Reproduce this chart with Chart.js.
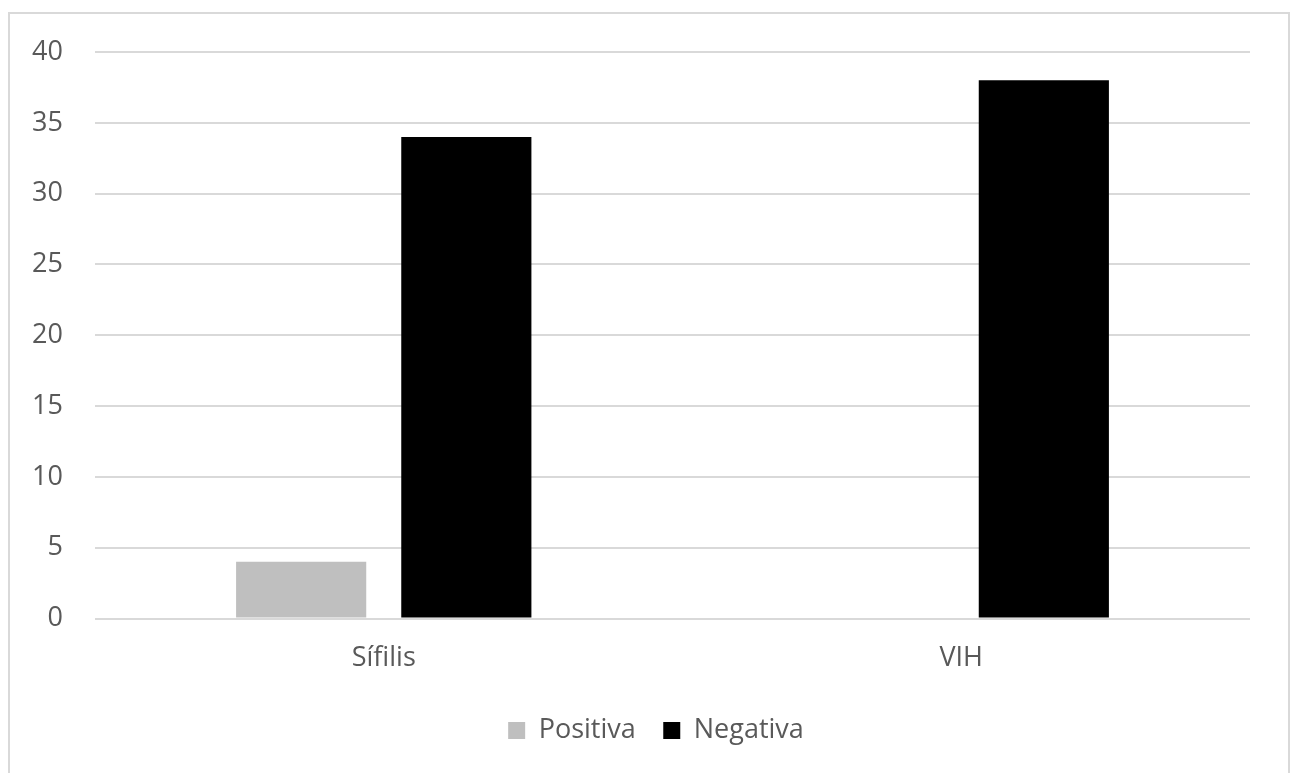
<!DOCTYPE html>
<html>
<head>
<meta charset="utf-8">
<script src="https://cdn.jsdelivr.net/npm/chart.js@4"></script>
<style>
  html, body { margin: 0; padding: 0; background: #ffffff; overflow: hidden; }
  #wrap { position: absolute; left: 0; top: 0; width: 1292px; height: 773px; }
  #frame {
    position: absolute; left: 8px; top: 12px; width: 1282px; height: 800px;
    box-sizing: border-box; border: 2px solid #d9d9d9; pointer-events: none;
  }
</style>
</head>
<body>
<div id="wrap"><canvas id="chart" width="1292" height="773"></canvas></div>
<div id="frame"></div>
<script>
// Test results by infection
const categories = ['Sífilis', 'VIH'];
const positiva = [4, 0];
const negativa = [34, 38];
const seriesNames = ['Positiva', 'Negativa'];
const yTicks = [0, 5, 10, 15, 20, 25, 30, 35, 40];

const FONT = { family: '"Open Sans", "Noto Sans", sans-serif', size: 27 };
const TEXT = '#595959';
const GRID = '#d9d9d9';
const LEGEND_CENTER_X = 656;

// Move the legend block so its centre sits at LEGEND_CENTER_X
const legendCenter = {
  id: 'legendCenter',
  afterLayout(chart) {
    const lg = chart.legend;
    if (!lg) return;
    const shift = LEGEND_CENTER_X - (lg.left + lg.right) / 2;
    lg.left += shift;
    lg.right += shift;
  }
};

new Chart(document.getElementById('chart'), {
  type: 'bar',
  data: {
    labels: categories,
    datasets: [
      { label: seriesNames[0], data: positiva, backgroundColor: '#bfbfbf', borderWidth: 0 },
      { label: seriesNames[1], data: negativa, backgroundColor: '#000000', borderWidth: 0 }
    ]
  },
  plugins: [legendCenter],
  options: {
    responsive: false,
    animation: false,
    events: [],
    layout: { padding: { top: 52, right: 42, bottom: 19, left: 0 } },
    datasets: { bar: { categoryPercentage: 0.572, barPercentage: 0.788 } },
    scales: {
      x: {
        grid: { display: false, drawTicks: false },
        border: { display: false },
        ticks: { color: TEXT, font: FONT, padding: 24 },
        afterFit: s => { s.height = 71; }
      },
      y: {
        min: 0,
        max: 40,
        afterBuildTicks: s => { s.ticks = yTicks.map(v => ({ value: v })); },
        grid: { color: GRID, lineWidth: 2, drawTicks: false },
        border: { display: false },
        ticks: { color: TEXT, font: FONT, padding: 32 },
        afterFit: s => { s.width = 95; }
      }
    },
    plugins: {
      tooltip: { enabled: false },
      legend: {
        position: 'bottom',
        labels: { color: TEXT, font: FONT, boxWidth: 17, boxHeight: 17, padding: 27.5 }
      }
    }
  }
});
</script>
</body>
</html>
